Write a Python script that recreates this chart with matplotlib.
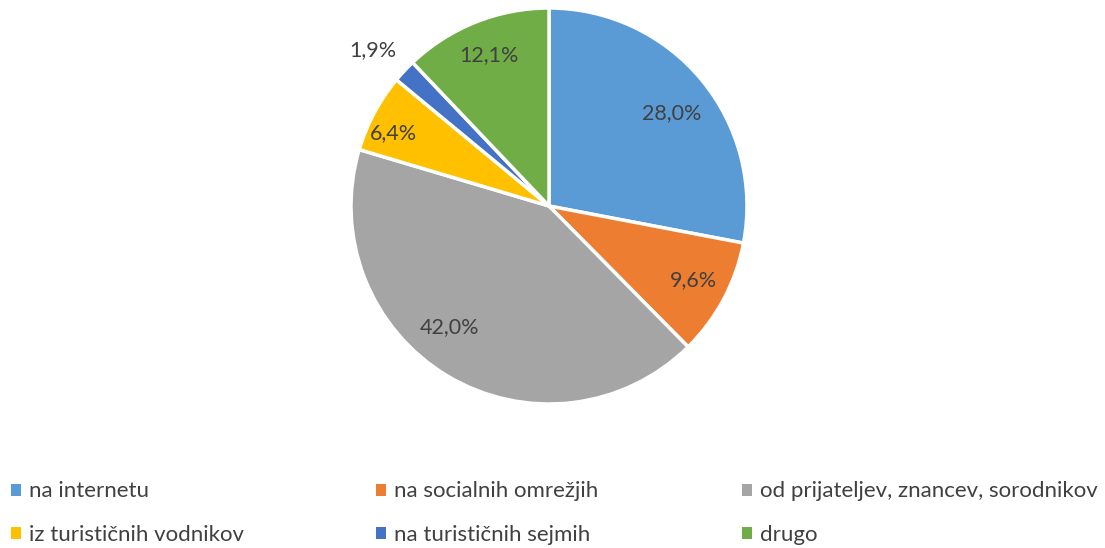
import matplotlib
matplotlib.use("Agg")
import matplotlib.pyplot as plt
import numpy as np
from matplotlib.patches import Patch

categories = ["na internetu", "na socialnih omrežjih", "od prijateljev, znancev, sorodnikov",
              "iz turističnih vodnikov", "na turističnih sejmih", "drugo"]
values = [28.0, 9.6, 42.0, 6.4, 1.9, 12.1]
colors = ["#5B9BD5", "#ED7D31", "#A5A5A5", "#FFC000", "#4472C4", "#70AD47"]
label_dist = [0.78, 0.82, 0.79, 0.865, 1.19, 0.82]
label_shift = [-2.5, 1.0, -8.5, 3.0, 1.5, 0.0]

plt.rcParams['font.family'] = ['Lato', 'DejaVu Sans']
W, H = 1105, 548
fig = plt.figure(figsize=(W/100, H/100), dpi=100)
cx, cy, r = 549, 206, 198
ax = fig.add_axes([(cx - r)/W, (H - cy - r)/H, 2*r/W, 2*r/H])
wedges, _ = ax.pie(values, colors=colors, startangle=90, counterclock=False,
                   wedgeprops=dict(edgecolor="white", linewidth=2.5), radius=1)
ax.set_xlim(-1, 1)
ax.set_ylim(-1, 1)
ax.set_aspect('auto')
ax.axis('off')

for w, v, d, s in zip(wedges, values, label_dist, label_shift):
    ang = np.deg2rad((w.theta1 + w.theta2) / 2 + s)
    ax.text(d*np.cos(ang), d*np.sin(ang), f"{v:.1f}".replace(".", ",") + "%",
            ha='center', va='center', fontsize=15.5, color="#404040")

col_x = [7, 372, 738]
for c in range(3):
    idx = [c, c + 3]
    handles = [Patch(facecolor=colors[i], edgecolor='none') for i in idx]
    fig.legend(handles, [categories[i] for i in idx], loc='upper left',
               bbox_to_anchor=(col_x[c]/W, 1 - 477/H), frameon=False,
               fontsize=16, labelcolor="#404040", handlelength=0.45, handleheight=0.45,
               handletextpad=0.35, labelspacing=1.05, borderaxespad=0, borderpad=0.2)

fig.savefig("out.png", dpi=100)
